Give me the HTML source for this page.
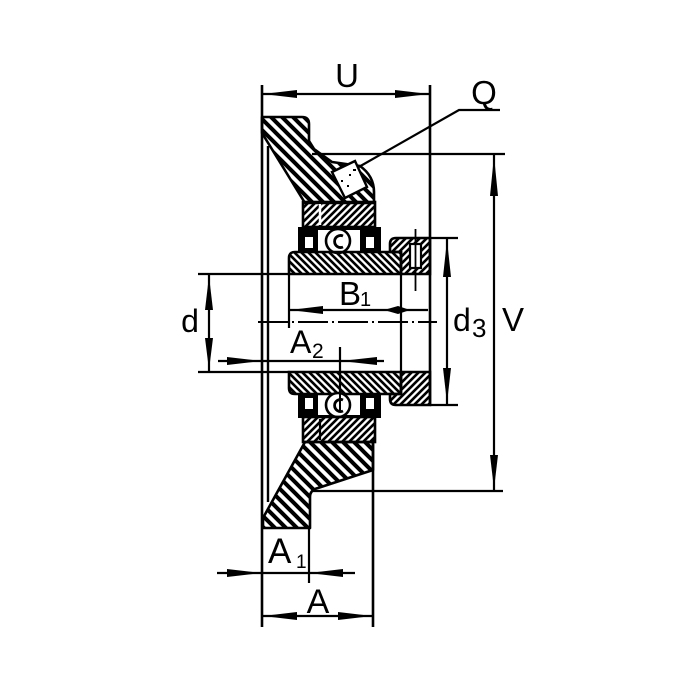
<!DOCTYPE html>
<html>
<head>
<meta charset="utf-8">
<style>
html,body{margin:0;padding:0;background:#fff;}
svg{display:block;}
text{font-family:"Liberation Sans","DejaVu Sans",sans-serif;fill:#000;}
</style>
</head>
<body>
<svg width="675" height="675" viewBox="0 0 675 675" xmlns="http://www.w3.org/2000/svg">
<defs>
  <pattern id="hb" width="11" height="11" patternUnits="userSpaceOnUse">
    <path d="M-5.5,5.5 L5.5,16.5 M0,0 L11,11 M5.5,-5.5 L16.5,5.5" stroke="#000" stroke-width="4"/>
  </pattern>
  <pattern id="hs" width="7" height="7" patternUnits="userSpaceOnUse">
    <path d="M-3.5,3.5 L3.5,10.5 M0,0 L7,7 M3.5,-3.5 L10.5,3.5" stroke="#000" stroke-width="2.6"/>
  </pattern>
  <pattern id="fs" width="7" height="7" patternUnits="userSpaceOnUse">
    <path d="M0,7 L7,0 M-3.5,3.5 L3.5,-3.5 M3.5,10.5 L10.5,3.5" stroke="#000" stroke-width="2.6"/>
  </pattern>
</defs>
<rect width="675" height="675" fill="#fff"/>

<g stroke="#000" fill="none" stroke-width="2.2">
  <!-- face lines -->
  <line x1="262" y1="85" x2="262" y2="627" stroke-width="2.6"/>
  <line x1="268" y1="146" x2="268" y2="502" stroke-width="2.4"/>
  <line x1="430" y1="85" x2="430" y2="405" stroke-width="2.6"/>
  <line x1="373" y1="440" x2="373" y2="627" stroke-width="2.6"/>
  <line x1="309" y1="528" x2="309" y2="583"/>

  <!-- U -->
  <line x1="262" y1="94" x2="430" y2="94"/>
  <!-- Q leader -->
  <polyline points="357,168 459,110 500,110"/>
  <!-- V -->
  <line x1="312" y1="154" x2="505" y2="154"/>
  <line x1="313" y1="491" x2="503" y2="491"/>
  <line x1="494" y1="154" x2="494" y2="491"/>
  <!-- d3 -->
  <line x1="430" y1="238" x2="458" y2="238"/>
  <line x1="430" y1="405" x2="458" y2="405"/>
  <line x1="447" y1="238" x2="447" y2="405"/>
  <!-- d -->
  <line x1="198" y1="274" x2="290" y2="274"/>
  <line x1="198" y1="372" x2="290" y2="372"/>
  <line x1="209" y1="274" x2="209" y2="372"/>
  <!-- B1 -->
  <line x1="289" y1="310" x2="428" y2="310"/>
  <line x1="289" y1="274" x2="289" y2="328"/>
  <line x1="401" y1="274" x2="401" y2="372"/>
  <!-- A2 -->
  <line x1="218" y1="361" x2="384" y2="361"/>
  <line x1="340" y1="347" x2="340" y2="412"/>
  <!-- A1 -->
  <line x1="217" y1="573" x2="355" y2="573"/>
  <!-- A -->
  <line x1="262" y1="616" x2="373" y2="616"/>
  <!-- centerline -->
  <line x1="258" y1="322" x2="437" y2="322" stroke-width="1.9" stroke-dasharray="30 4 2 4"/>
</g>

<!-- arrowheads -->
<g fill="#000">
  <polygon points="263,94 297,90 297,98"/>
  <polygon points="429,94 395,90 395,98"/>
  <polygon points="494,156 490,196 498,196"/>
  <polygon points="494,489 490,455 498,455"/>
  <polygon points="447,240 443,277 451,277"/>
  <polygon points="447,403 443,368 451,368"/>
  <polygon points="209,276 205,310 213,310"/>
  <polygon points="209,370 205,338 213,338"/>
  <polygon points="290,310 323,306 323,314"/>
  <polygon points="384,310 398,306 410,310 398,314"/>
  <polygon points="262,361 227,357 227,365"/>
  <polygon points="341,361 377,357 377,365"/>
  <polygon points="262,573 227,569 227,577"/>
  <polygon points="309,573 343,569 343,577"/>
  <polygon points="263,616 297,612 297,620"/>
  <polygon points="372,616 338,612 338,620"/>
</g>

<!-- top flange housing -->
<path d="M262,117 L302,117 Q309,117 309,124 L309,141 L314,149 L332,162 L360,166 Q374,176 374,192 L374,203 L305,203 L262,133 Z" fill="url(#hb)" stroke="#000" stroke-width="2.6" stroke-linejoin="round"/>
<!-- grease nipple -->
<polygon points="332,172 355,161 367,187 345,198" fill="#fff" stroke="#000" stroke-width="2.4"/>
<g fill="#000">
  <rect x="349" y="174" width="2" height="2"/>
  <rect x="347" y="185" width="2" height="2"/>
  <rect x="341" y="180" width="2" height="2"/>
  <rect x="353" y="169" width="3" height="2"/>
</g>

<!-- top outer ring -->
<rect x="303" y="202" width="72" height="25" fill="url(#fs)" stroke="#000" stroke-width="2.6"/>
<line x1="320" y1="204" x2="320" y2="225" stroke="#fff" stroke-width="2.5"/>
<!-- top seals -->
<rect x="298" y="227" width="20" height="25" fill="#000"/>
<rect x="305" y="237" width="8" height="11" fill="#fff"/>
<rect x="360" y="227" width="21" height="25" fill="#000"/>
<rect x="366" y="237" width="8" height="11" fill="#fff"/>
<rect x="318" y="227" width="42" height="3" fill="#000"/>
<circle cx="338" cy="241" r="12" fill="#fff" stroke="#000" stroke-width="2.6"/>
<path d="M343,236 A6,6 0 1 0 343,247" fill="none" stroke="#000" stroke-width="2.8"/>

<!-- top inner ring -->
<path d="M289,274 L289,258 Q289,252 295,252 L401,252 L401,274 Z" fill="url(#hs)" stroke="#000" stroke-width="2.6"/>
<!-- top collar -->
<path d="M401,252 L390,252 L390,244 Q390,238 396,238 L430,238 L430,274 L401,274 Z" fill="url(#fs)" stroke="#000" stroke-width="2.6"/>
<rect x="410" y="244" width="11" height="24" fill="#fff" stroke="#000" stroke-width="2.2"/>
<line x1="415.5" y1="229" x2="415.5" y2="291" stroke="#000" stroke-width="1.8"/>

<!-- bottom inner ring -->
<path d="M289,372 L289,388 Q289,394 295,394 L401,394 L401,372 Z" fill="url(#hs)" stroke="#000" stroke-width="2.6"/>
<!-- bottom collar -->
<path d="M401,372 L430,372 L430,405 L396,405 Q390,405 390,399 L390,394 L401,394 Z" fill="url(#fs)" stroke="#000" stroke-width="2.6"/>

<!-- bottom seals -->
<rect x="298" y="394" width="20" height="24" fill="#000"/>
<rect x="305" y="398" width="8" height="11" fill="#fff"/>
<rect x="360" y="394" width="21" height="24" fill="#000"/>
<rect x="366" y="398" width="8" height="11" fill="#fff"/>
<rect x="318" y="415" width="42" height="3" fill="#000"/>
<circle cx="338" cy="405" r="12" fill="#fff" stroke="#000" stroke-width="2.6"/>
<path d="M343,400 A6,6 0 1 0 343,411" fill="none" stroke="#000" stroke-width="2.8"/>
<line x1="340" y1="394" x2="340" y2="412" stroke="#000" stroke-width="2"/>

<!-- bottom outer ring -->
<rect x="303" y="417" width="72" height="25" fill="url(#fs)" stroke="#000" stroke-width="2.6"/>
<line x1="320" y1="419" x2="320" y2="440" stroke="#000" stroke-width="2.2"/>

<!-- bottom flange housing -->
<path d="M305,442 L373,442 L373,470 L318,488 Q310,490 310,497 L310,528 L263,528 L263,518 Z" fill="url(#hb)" stroke="#000" stroke-width="2.6" stroke-linejoin="round"/>

<!-- labels -->
<text x="347" y="87" font-size="33" text-anchor="middle">U</text>
<text x="484" y="104" font-size="33" text-anchor="middle">Q</text>
<text x="513" y="331" font-size="33" text-anchor="middle">V</text>
<text x="190" y="332" font-size="32" text-anchor="middle">d</text>
<text x="453" y="331" font-size="32">d</text>
<text x="472" y="337" font-size="26">3</text>
<text x="339" y="305" font-size="33">B</text>
<text x="360" y="306" font-size="20">1</text>
<text x="290" y="353" font-size="32">A</text>
<text x="312" y="358" font-size="21">2</text>
<text x="268" y="563" font-size="35">A</text>
<text x="296" y="568" font-size="19">1</text>
<text x="318" y="613" font-size="34" text-anchor="middle">A</text>
</svg>
</body>
</html>
